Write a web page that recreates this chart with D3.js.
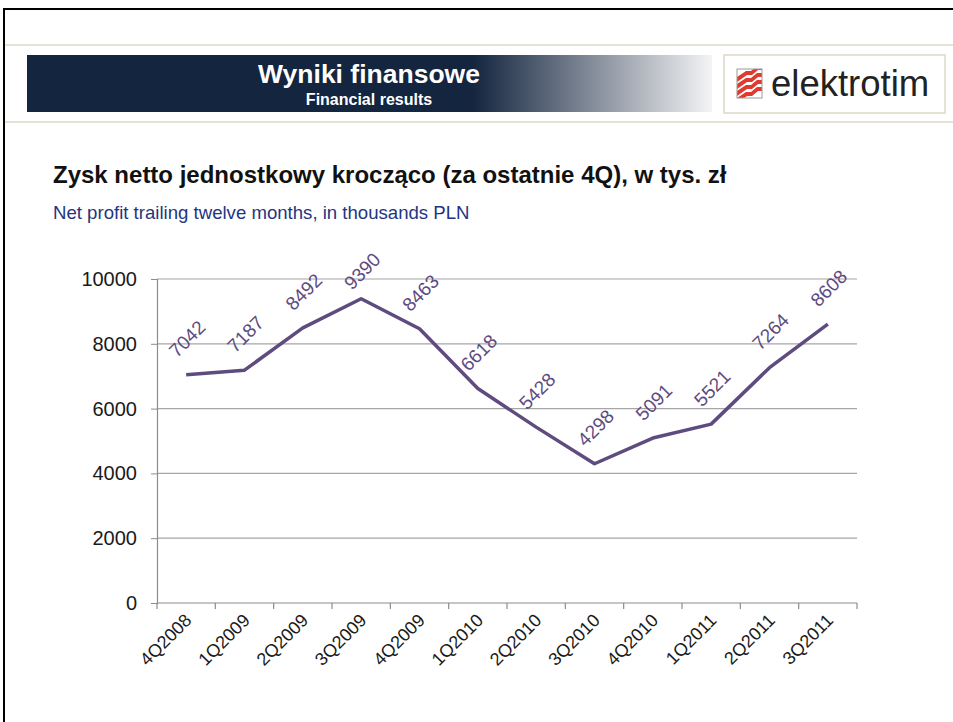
<!DOCTYPE html>
<html><head><meta charset="utf-8">
<script src="https://cdn.jsdelivr.net/npm/d3@7"></script>
<style>
html,body{margin:0;padding:0;background:#fff;}
svg{display:block;font-family:"Liberation Sans",Arial,sans-serif;}
</style></head>
<body>
<svg id="c" width="953" height="722"></svg>
<script>
const categories = ["4Q2008","1Q2009","2Q2009","3Q2009","4Q2009","1Q2010","2Q2010","3Q2010","4Q2010","1Q2011","2Q2011","3Q2011"];
const profit = [7042,7187,8492,9390,8463,6618,5428,4298,5091,5521,7264,8608];
const yTicks = [0,2000,4000,6000,8000,10000];
const bannerTitle = "Wyniki finansowe";
const bannerSub = "Financial results";
const chartTitle = "Zysk netto jednostkowy krocząco (za ostatnie 4Q), w tys. zł";
const chartSub = "Net profit trailing twelve months, in thousands PLN";

const svg = d3.select("#c");
const purple = "#5e4b7f";

// frame
svg.append("rect").attr("x",4).attr("y",9).attr("width",960).attr("height",730)
  .attr("fill","none").attr("stroke","#000").attr("stroke-width",2);
[45,122].forEach(y=>svg.append("line").attr("x1",5).attr("x2",953).attr("y1",y).attr("y2",y)
  .attr("stroke","#ddd9c6").attr("stroke-width",1.5));

// banner
const defs = svg.append("defs");
const g = defs.append("linearGradient").attr("id","bg").attr("x1","0").attr("x2","1").attr("y1","0").attr("y2","0");
g.append("stop").attr("offset","0").attr("stop-color","#14253f");
g.append("stop").attr("offset","0.65").attr("stop-color","#14253f");
g.append("stop").attr("offset","1").attr("stop-color","#f4f4f5");
defs.append("clipPath").attr("id","lc").append("rect").attr("x",737).attr("y",69).attr("width",25).attr("height",29);
svg.append("rect").attr("x",27).attr("y",55).attr("width",685).attr("height",57).attr("fill","url(#bg)");
svg.append("text").attr("x",369).attr("y",83).attr("text-anchor","middle").attr("fill","#fff")
  .attr("font-weight","bold").attr("font-size",26.5).text(bannerTitle);
svg.append("text").attr("x",369).attr("y",105).attr("text-anchor","middle").attr("fill","#fff")
  .attr("font-weight","bold").attr("font-size",16).text(bannerSub);

// logo
svg.append("rect").attr("x",724).attr("y",55).attr("width",221).attr("height",58)
  .attr("fill","#fff").attr("stroke","#ddd9c6").attr("stroke-width",1.5);
const lg = svg.append("g").attr("clip-path","url(#lc)");
[0,7,14,21].forEach(o=>lg.append("path")
  .attr("transform","translate(737,69)")
  .attr("d",`M0,${o+8} L9,${o+2} L14,${o+2} L20,${o-3} L26,${o-3} L26,${o+1} L21,${o+1} L15,${o+6} L10,${o+6} L0,${o+13} Z`)
  .attr("fill","#e03a2f"));
svg.append("rect").attr("x",737).attr("y",69).attr("width",25).attr("height",29).attr("fill","none")
  .attr("stroke","#9a9a9a").attr("stroke-width",1);
svg.append("text").attr("x",771).attr("y",96).attr("fill","#222").attr("font-size",36.5).text("elektrotim");

// titles
svg.append("text").attr("x",53).attr("y",183).attr("fill","#111").attr("font-weight","bold")
  .attr("font-size",24).text(chartTitle);
svg.append("text").attr("x",53).attr("y",219).attr("fill","#1f3580").attr("font-size",18.6).text(chartSub);

// chart
const x = d3.scaleBand().domain(categories).range([157,857]).padding(0);
const y = d3.scaleLinear().domain([0,10000]).range([603,279]);

svg.append("g").selectAll("line").data(yTicks.filter(d=>d>0)).join("line")
  .attr("x1",157).attr("x2",857).attr("y1",d=>y(d)).attr("y2",d=>y(d))
  .attr("stroke","#a6a6a6").attr("stroke-width",1.2);

const ya = svg.append("g").attr("transform","translate(157,0)")
  .call(d3.axisLeft(y).tickValues(yTicks).tickSize(6).tickPadding(14).tickFormat(d3.format("d")));
ya.select(".domain").attr("stroke","#8c8c8c").attr("stroke-width",1.2);
ya.selectAll(".tick line").attr("stroke","#8c8c8c");
ya.selectAll("text").attr("font-size",20).attr("fill","#1a1a1a").attr("font-family","Liberation Sans, Arial, sans-serif");

// x axis
svg.append("line").attr("x1",157).attr("x2",857).attr("y1",603).attr("y2",603).attr("stroke","#8c8c8c").attr("stroke-width",1.2);
const bounds = categories.map(c=>x(c)).concat([x(categories[categories.length-1])+x.bandwidth()]);
svg.append("g").selectAll("line").data(bounds).join("line")
  .attr("x1",d=>d).attr("x2",d=>d).attr("y1",603).attr("y2",609).attr("stroke","#8c8c8c").attr("stroke-width",1.2);
svg.append("g").selectAll("text").data(categories).join("text")
  .attr("transform",d=>`translate(${x(d)+x.bandwidth()/2+2},${617}) rotate(-45)`)
  .attr("text-anchor","end").attr("dy","0.35em").attr("font-size",18).attr("fill","#1a1a1a").text(d=>d);

// line
const cx = (d,i)=>x(categories[i])+x.bandwidth()/2;
svg.append("path").datum(profit)
  .attr("d",d3.line().x((d,i)=>cx(d,i)).y(d=>y(d)))
  .attr("fill","none").attr("stroke",purple).attr("stroke-width",3.5).attr("stroke-linejoin","round");

// data labels
svg.append("g").selectAll("text").data(profit).join("text")
  .attr("transform",(d,i)=>`translate(${cx(d,i)+1},${Math.max(y(d)-36,271)}) rotate(-45)`)
  .attr("text-anchor","middle").attr("dy","0.35em").attr("font-size",19).attr("fill",purple).text(d=>d);
</script>
</body></html>
